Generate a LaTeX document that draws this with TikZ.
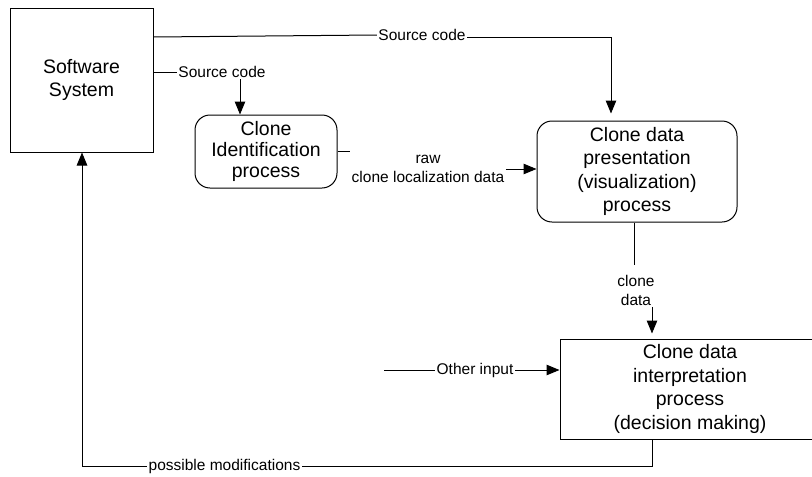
\documentclass[tikz,border=0pt]{standalone}
\usepackage{fontspec}
\setmainfont{Liberation Sans}
\usetikzlibrary{arrows.meta}
\tikzset{
  proc/.style={draw, line width=1pt, inner sep=0pt, align=center,
               font=\fontsize{19.5}{23.5}\selectfont},
  roundproc/.style={proc, rounded corners=15pt},
  lab/.style={fill=white, inner sep=1.5pt, align=center,
              font=\fontsize{15.5}{19}\selectfont},
  flow/.style={line width=1pt},
  arr/.style={flow, -{Triangle[length=13pt,width=10.5pt]}},
}
\begin{document}
\begin{tikzpicture}[x=1pt, y=-1pt]
\useasboundingbox (0,0) rectangle (812,477);
\clip (0,0) rectangle (812,477);

% process boxes
\node[proc, minimum width=143pt, minimum height=144pt] (sw) at (81.5,80)
  {Software\\System};
\node[roundproc, minimum width=142pt, minimum height=73pt,
      font=\fontsize{19.5}{21}\selectfont] (cid) at (266,151.5)
  {Clone\\Identification\\process};
\node[roundproc, minimum width=200pt, minimum height=101pt] (pres) at (637,171.5)
  {Clone data\\presentation\\(visualization)\\process};
\node[proc, minimum width=260pt, minimum height=100pt] (interp) at (690,389)
  {Clone data\\interpretation\\process\\(decision making)};

% routing points
\coordinate (t1) at (611,37);
\coordinate (ax) at (652,0);
\coordinate (oin) at (384,370);
\coordinate (bl) at (82,466);
\coordinate (br) at (652,466);

% labels
\node[lab] (src1) at (422,35) {Source code};
\node[lab] (src2) at (222,72) {Source code};
\node[lab] (raw) at (428,169) {raw\\clone localization data};
\node[lab] (cd) at (636,290) {clone\\data};
\node[lab] (oth) at (475,370) {Other input};
\node[lab] (pm) at (224.5,466) {possible modifications};

% source code to presentation
\draw[flow] (sw.east |- t1) -- (src1.west);
\draw[arr, shorten >=7pt] (src1.east |- t1) -- (t1) -- (t1 |- pres.north);

% source code to identification
\draw[flow] (sw.east |- src2) -- (src2.west);
\draw[arr] (src2.south -| 240,0) -- (cid.north -| 240,0);

% raw localization data
\draw[flow] (cid.east) -- (cid.east -| raw.west);
\draw[arr] (raw.east) -- (raw.east -| pres.west);

% clone data to interpretation
\draw[flow] (pres.south -| 634,0) -- (634,265);
\draw[arr, shorten >=5pt] (cd.south -| ax) -- (interp.north -| ax);

% other input
\draw[flow] (oin) -- (oth.west);
\draw[arr] (oth.east) -- (oth.east -| interp.west);

% feedback to the software system
\draw[flow] (interp.south -| br) -- (br) -- (pm.east);
\draw[arr] (pm.west) -- (bl) -- (sw.south -| bl);
\end{tikzpicture}
\end{document}
